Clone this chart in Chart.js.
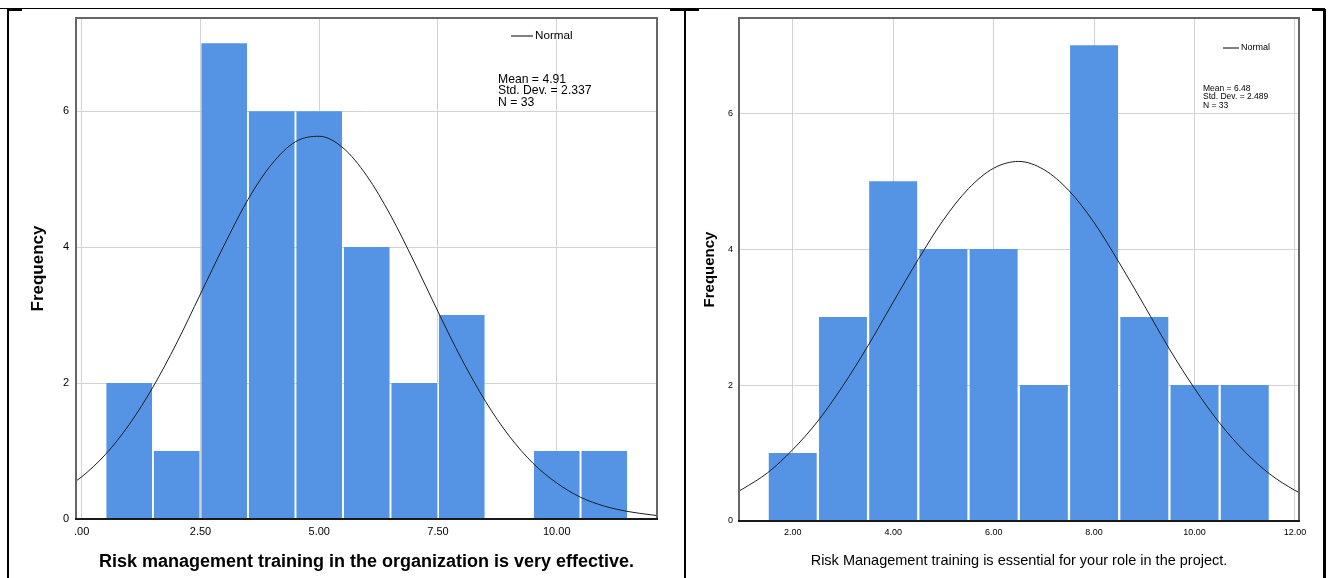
<!DOCTYPE html>
<html>
<head>
<meta charset="utf-8">
<script src="https://cdn.jsdelivr.net/npm/chart.js@4"></script>
<style>
  body { margin: 0; background: #fff; width: 1333px; height: 578px; overflow: hidden; position: relative; }
  .panel { position: absolute; top: 0; height: 578px; }
  .rule { position: absolute; background: #000; z-index: 5; }
</style>
</head>
<body>
<!-- table borders around the two figures -->
<div class="rule" style="left:0;top:8px;width:1325px;height:1px"></div>
<div class="rule" style="left:7px;top:9px;width:15px;height:2px"></div>
<div class="rule" style="left:670px;top:9px;width:29px;height:2px"></div>
<div class="rule" style="left:1312px;top:9px;width:13px;height:2px"></div>
<div class="rule" style="left:7px;top:9px;width:2px;height:569px"></div>
<div class="rule" style="left:684px;top:9px;width:2px;height:569px"></div>
<div class="rule" style="left:1323px;top:9px;width:3px;height:569px"></div>

<div class="panel" style="left:0;width:680px"><canvas id="left"></canvas></div>
<div class="panel" style="left:690px;width:643px"><canvas id="right"></canvas></div>

<script>
// ---- left histogram: "Risk management training in the organization is very effective."
const leftBins = [1, 2, 3, 4, 5, 6, 7, 8, 9, 10, 11];
const leftCounts = [2, 1, 7, 6, 6, 4, 2, 3, 0, 1, 1];
const leftCurveX = [-0.12, 0, 0.5, 1, 1.5, 2, 2.5, 3, 3.5, 4, 4.5, 5, 5.5, 6, 6.5, 7, 7.5, 8, 8.5, 9, 9.5, 10, 10.5, 11, 11.5, 12, 12.11];
const leftCurveY = [0.56, 0.62, 0.95, 1.39, 1.94, 2.59, 3.31, 4.03, 4.70, 5.22, 5.55, 5.63, 5.46, 5.05, 4.47, 3.78, 3.05, 2.35, 1.73, 1.22, 0.82, 0.53, 0.32, 0.19, 0.11, 0.06, 0.05];
const leftXTicks = [0, 2.5, 5, 7.5, 10];
const leftXLabels = [".00", "2.50", "5.00", "7.50", "10.00"];
const leftYTicks = [0, 2, 4, 6];
const leftStats = ["Mean = 4.91", "Std. Dev. = 2.337", "N = 33"];
const leftTitle = "Risk management training in the organization is very effective.";

// ---- right histogram: "Risk Management training is essential for your role in the project."
const rightBins = [2, 3, 4, 5, 6, 7, 8, 9, 10, 11];
const rightCounts = [1, 3, 5, 4, 4, 2, 7, 3, 2, 2];
const rightCurveX = [0.93, 1, 1.5, 2, 2.5, 3, 3.5, 4, 4.5, 5, 5.5, 6, 6.5, 7, 7.5, 8, 8.5, 9, 9.5, 10, 10.5, 11, 11.5, 12, 12.08];
const rightCurveY = [0.44, 0.47, 0.71, 1.05, 1.47, 1.99, 2.58, 3.22, 3.85, 4.43, 4.89, 5.19, 5.29, 5.17, 4.86, 4.39, 3.80, 3.17, 2.53, 1.95, 1.44, 1.02, 0.69, 0.45, 0.42];
const rightXTicks = [2, 4, 6, 8, 10, 12];
const rightXLabels = ["2.00", "4.00", "6.00", "8.00", "10.00", "12.00"];
const rightYTicks = [0, 2, 4, 6];
const rightStats = ["Mean = 6.48", "Std. Dev. = 2.489", "N = 33"];
const rightTitle = "Risk Management training is essential for your role in the project.";

const FONT = "'Liberation Sans', Arial, sans-serif";
const BAR_BLUE = "#5594e4";
const GRID = "#d3d3d3";

// frame, axis line, "Normal" key and the statistics box
const spssDecor = {
  id: "spssDecor",
  afterDatasetsDraw(chart, args, o) {
    const { ctx, chartArea: a } = chart;
    ctx.save();
    ctx.strokeStyle = "#666";
    ctx.lineWidth = 2;
    ctx.strokeRect(a.left, a.top, a.right - a.left, a.bottom - a.top);
    ctx.strokeStyle = "#1a1a1a";
    ctx.beginPath();
    ctx.moveTo(a.left - 1, a.bottom);
    ctx.lineTo(a.right + 1, a.bottom);
    ctx.stroke();

    ctx.fillStyle = "#000";
    ctx.strokeStyle = "#000";
    ctx.lineWidth = 1;
    ctx.textBaseline = "middle";
    ctx.font = o.keyFont + "px " + FONT;
    ctx.beginPath();
    ctx.moveTo(o.keyX, o.keyY + 0.5);
    ctx.lineTo(o.keyX + o.keyLen, o.keyY + 0.5);
    ctx.stroke();
    ctx.fillText("Normal", o.keyX + o.keyLen + 2, o.keyY + 0.5);

    ctx.font = o.statFont + "px " + FONT;
    o.stats.forEach((s, i) => ctx.fillText(s, o.statX, o.statY + i * o.statGap));
    ctx.restore();
  }
};

function histogram(id, p) {
  const bars = p.bins.map((b, i) => ({ x: b, y: p.counts[i] }));
  const curve = p.curveX.map((x, i) => ({ x: x, y: p.curveY[i] }));
  return new Chart(document.getElementById(id), {
    type: "bar",
    data: {
      datasets: [
        {
          type: "line",
          label: "Normal",
          data: curve,
          borderColor: "#1c1c1c",
          borderWidth: 1,
          pointRadius: 0,
          cubicInterpolationMode: "monotone",
          order: 1
        },
        {
          label: "Frequency",
          data: bars,
          backgroundColor: BAR_BLUE,
          borderWidth: 0,
          categoryPercentage: 1,
          barPercentage: p.barPct,
          order: 2
        }
      ]
    },
    options: {
      responsive: true,
      maintainAspectRatio: false,
      animation: false,
      layout: { padding: { top: 18, right: p.padRight, left: 0, bottom: 0 } },
      plugins: {
        legend: { display: false },
        tooltip: { enabled: false },
        spssDecor: p.decor
      },
      scales: {
        x: {
          type: "linear",
          min: p.xMin,
          max: p.xMax,
          offset: false,
          afterBuildTicks: s => { s.ticks = p.xTicks.map(v => ({ value: v })); },
          afterFit: s => { s.height = p.xAxisH; },
          grid: { color: GRID, lineWidth: 1, drawTicks: false, offset: false },
          border: { display: false },
          ticks: {
            autoSkip: false,
            maxRotation: 0,
            color: "#000",
            padding: p.xTickPad,
            font: { family: FONT, size: p.tickSize },
            callback: (v, i) => p.xLabels[i]
          },
          title: {
            display: true,
            text: p.title,
            color: "#000",
            font: { family: FONT, size: p.titleSize, weight: p.titleWeight },
            padding: { top: 0, bottom: p.titlePad }
          }
        },
        y: {
          type: "linear",
          min: 0,
          max: p.yMax,
          afterBuildTicks: s => { s.ticks = p.yTicks.map(v => ({ value: v })); },
          afterFit: s => { s.width = p.yAxisW; },
          grid: { color: GRID, lineWidth: 1, drawTicks: false },
          border: { display: false },
          ticks: {
            color: "#000",
            padding: p.yTickPad,
            font: { family: FONT, size: p.tickSize },
            callback: v => String(v)
          },
          title: {
            display: true,
            text: "Frequency",
            color: "#000",
            font: { family: FONT, size: p.yTitleSize, weight: "bold" },
            padding: { top: p.yTitlePad, bottom: 0 }
          }
        }
      }
    },
    plugins: [spssDecor]
  });
}

histogram("left", {
  bins: leftBins, counts: leftCounts, curveX: leftCurveX, curveY: leftCurveY,
  xTicks: leftXTicks, xLabels: leftXLabels, yTicks: leftYTicks, title: leftTitle,
  xMin: -0.12, xMax: 12.11, yMax: 7.37, barPct: 0.96,
  padRight: 23, xAxisH: 59, yAxisW: 76,
  tickSize: 11, xTickPad: 6, yTickPad: 7,
  titleSize: 18, titleWeight: "bold", titlePad: 5.2,
  yTitleSize: 17, yTitlePad: 27.8,
  decor: { keyX: 511, keyY: 35.5, keyLen: 22, keyFont: 11.7,
           stats: leftStats, statX: 498, statY: 79.5, statGap: 11.5, statFont: 12.2 }
});

histogram("right", {
  bins: rightBins, counts: rightCounts, curveX: rightCurveX, curveY: rightCurveY,
  xTicks: rightXTicks, xLabels: rightXLabels, yTicks: rightYTicks, title: rightTitle,
  xMin: 0.93, xMax: 12.08, yMax: 7.40, barPct: 0.955,
  padRight: 34, xAxisH: 57, yAxisW: 49,
  tickSize: 9, xTickPad: 6, yTickPad: 6,
  titleSize: 14.5, titleWeight: "normal", titlePad: 8.3,
  yTitleSize: 15, yTitlePad: 11,
  decor: { keyX: 533, keyY: 47.5, keyLen: 16, keyFont: 9,
           stats: rightStats, statX: 513, statY: 88.5, statGap: 8.5, statFont: 8.5 }
});
</script>
</body>
</html>
